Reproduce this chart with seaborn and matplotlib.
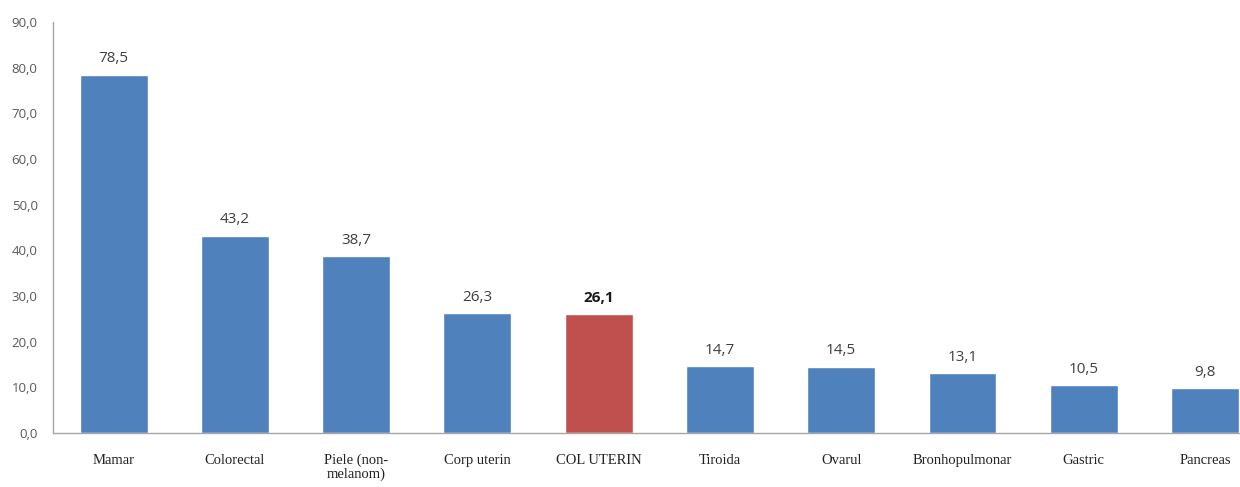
import matplotlib
matplotlib.use("Agg")
import matplotlib.pyplot as plt
import seaborn as sns
import pandas as pd

categories = ["Mamar", "Colorectal", "Piele (non-\nmelanom)", "Corp uterin", "COL UTERIN",
              "Tiroida", "Ovarul", "Bronhopulmonar", "Gastric", "Pancreas"]
values = [78.5, 43.2, 38.7, 26.3, 26.1, 14.7, 14.5, 13.1, 10.5, 9.8]
highlight = "COL UTERIN"
y_ticks = [0, 10, 20, 30, 40, 50, 60, 70, 80, 90]

blue = "#4F81BD"
red = "#C0504D"
axis_gray = "#A6A6A6"

df = pd.DataFrame({"cat": categories, "val": values})
df["grp"] = ["h" if c == highlight else "n" for c in categories]

sns.set_style("white")
fig = plt.figure(figsize=(12.4, 4.87), dpi=100)
ax = fig.add_axes([0.0427, 0.1109, 0.978, 0.8439])

sns.barplot(data=df, x="cat", y="val", hue="grp", palette={"n": blue, "h": red},
            dodge=False, width=0.56, legend=False, ax=ax, saturation=1)

ax.set_ylim(0, 90)
ax.set_xlim(-0.5, 9.5)
ax.set_yticks(y_ticks)
ax.set_yticklabels([f"{t:.1f}".replace(".", ",") for t in y_ticks],
                   fontsize=9.5, color="#595959", family="Open Sans")
ax.set_xticks(range(len(categories)))
ax.set_xticklabels(categories, fontsize=10.5, family="Liberation Serif", color="#222222",
                   linespacing=1.0)
ax.tick_params(axis="x", length=0, pad=15)
ax.tick_params(axis="y", length=0, pad=11)
ax.set_xlabel("")
ax.set_ylabel("")

for side in ["top", "right"]:
    ax.spines[side].set_visible(False)
for side in ["left", "bottom"]:
    ax.spines[side].set_color(axis_gray)
    ax.spines[side].set_linewidth(1)

for i, (c, v) in enumerate(zip(categories, values)):
    label = f"{v:.1f}".replace(".", ",")
    if c == highlight:
        ax.annotate(label, (i, v), xytext=(0, 6), textcoords="offset points",
                    ha="center", va="bottom", fontsize=11, fontweight="bold",
                    color="#1a1a1a", family="Open Sans")
    else:
        ax.annotate(label, (i, v), xytext=(0, 6), textcoords="offset points",
                    ha="center", va="bottom", fontsize=11, color="#404040",
                    family="Open Sans")

fig.savefig("out.png", dpi=100)
